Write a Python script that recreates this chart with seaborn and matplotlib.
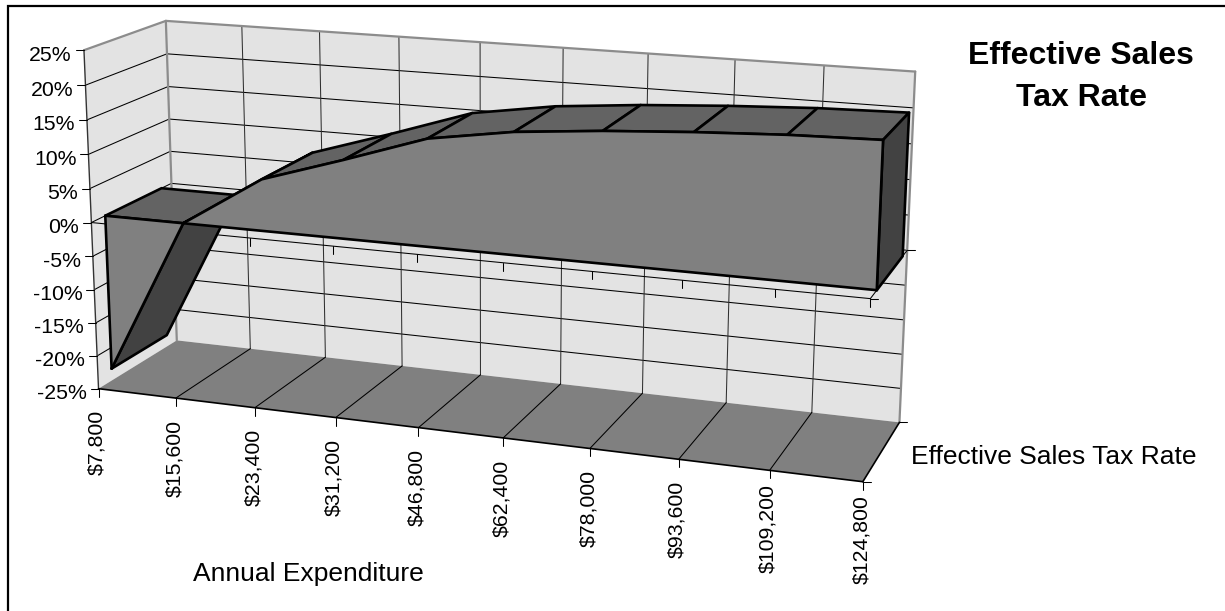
import numpy as np
import pandas as pd
import seaborn as sns
import matplotlib
matplotlib.use('Agg')
import matplotlib.pyplot as plt

# Chart data
expenditure = ['$7,800', '$15,600', '$23,400', '$31,200', '$46,800',
               '$62,400', '$78,000', '$93,600', '$109,200', '$124,800']
tax_rate = [-23.2, 0.0, 7.5, 11.3, 15.3, 17.2, 18.3, 19.1, 19.7, 20.0]
rate_ticks = [25, 20, 15, 10, 5, 0, -5, -10, -15, -20, -25]
series_name = 'Effective Sales Tax Rate'
x_title = 'Annual Expenditure'

# Picture positions of the plot box corners: (across, depth, rate) -> (px, py)
box_corners = [
    ((0, 0, -25), (98, 389)), ((1, 0, -25), (863, 482)),
    ((0, 1, -25), (177, 340)), ((1, 1, -25), (900, 422)),
    ((0, 0, 25), (84, 50)), ((0, 1, 25), (165.5, 21)),
    ((1, 1, 25), (916, 71.5)), ((0, 0, 0), (92, 222.7)),
    ((1, 0, 0), (870, 298)), ((1, 1, 0), (906, 251)),
]

# Solve the perspective camera from the corners
rows, rhs = [], []
for (a, d, r), (px, py) in box_corners:
    rows.append([a, d, r, 1, 0, 0, 0, 0, -px * a, -px * d, -px * r])
    rows.append([0, 0, 0, 0, a, d, r, 1, -py * a, -py * d, -py * r])
    rhs += [px, py]
cam = np.linalg.lstsq(np.array(rows, float), np.array(rhs, float), rcond=None)[0]
cam = np.append(cam, 1).reshape(3, 4)


def project(a, d, r):
    p = cam @ np.array([a, d, r, 1.0])
    return p[0] / p[2], p[1] / p[2]


def poly(ax, pts, color, edge='none', lw=0):
    xy = [project(*p) for p in pts]
    ax.fill([q[0] for q in xy], [q[1] for q in xy], color=color, ec=edge, lw=lw,
            joinstyle='round', zorder=2)


def seg(ax, a, b, color='black', lw=0.75):
    p, q = project(*a), project(*b)
    ax.plot([p[0], q[0]], [p[1], q[1]], color=color, lw=lw, solid_capstyle='round', zorder=2)


sns.set_style('white')
plt.rcParams['font.family'] = ['Liberation Sans', 'DejaVu Sans']
plt.rcParams['text.color'] = 'black'

fig = plt.figure(figsize=(12.25, 6.11), dpi=100)
ax = fig.add_axes([0, 0, 1, 1])
ax.set_xlim(0, 1225)
ax.set_ylim(611, 0)
ax.axis('off')

# chart border, only top and left are inside the picture
ax.plot([8, 8, 1225], [611, 6, 6], color='black', lw=1.6, zorder=2, solid_joinstyle='miter')

WALL, FLOOR, FRONT, TOP, DARK = '#e3e3e3', '#808080', '#808080', '#636363', '#424242'
n = len(expenditure)
cats = [i / (n - 1) for i in range(n)]

# walls and floor
poly(ax, [(0, 0, -25), (0, 1, -25), (0, 1, 25), (0, 0, 25)], WALL)
poly(ax, [(0, 1, -25), (1, 1, -25), (1, 1, 25), (0, 1, 25)], WALL)
poly(ax, [(0, 0, -25), (1, 0, -25), (1, 1, -25), (0, 1, -25)], FLOOR)

# gridlines
for r in rate_ticks[1:-1]:
    seg(ax, (0, 0, r), (0, 1, r))
    seg(ax, (0, 1, r), (1, 1, r))
for c in cats[1:-1]:
    seg(ax, (c, 1, -25), (c, 1, 25), color='#303030')
    seg(ax, (c, 0, -25), (c, 1, -25))

# wall edges
for a, b in [((0, 0, 25), (0, 1, 25)), ((0, 1, 25), (1, 1, 25)),
             ((0, 1, 25), (0, 1, -25)), ((1, 1, 25), (1, 1, -25))]:
    seg(ax, a, b, color='#8c8c8c', lw=1.6)

# axis lines
seg(ax, (0, 0, 25), (0, 0, -25), color='#333333', lw=1.0)
seg(ax, (0, 0, -25), (1, 0, -25), lw=1.2)
seg(ax, (1, 0, -25), (1, 1, -25), lw=1.2)
seg(ax, (0, 0, 0), (1, 0, 0))
seg(ax, (1, 0, 0), (1, 1, 0))

# ticks and labels on the value axis
for r in rate_ticks:
    px, py = project(0, 0, r)
    ax.plot([px - 8, px], [py, py], color='black', lw=0.75, zorder=2)
    ax.text(px - 12, py + 10.5, f'{r}%', ha='right', va='baseline', fontsize=15.3)

# ticks and labels on the category axis
for c, lab in zip(cats, expenditure):
    px, py = project(c, 0, -25)
    ax.plot([px, px], [py, py + 8], color='black', lw=0.75, zorder=2)
    # the longer labels sit closer to the axis in the original
    gap = 14 if len(lab) > 7 else 21.5
    ax.text(px - 1.5, py + gap, lab, rotation=90, ha='center', va='top', fontsize=15.3)
    zx, zy = project(c, 0, 0)
    if c > 0:
        ax.plot([zx, zx], [zy, zy + 8], color='black', lw=0.75, zorder=2)

# ticks on the depth axis
for d, r in [(0, -25), (1, -25), (0, 0), (1, 0)]:
    px, py = project(1, d, r)
    ax.plot([px, px + 8], [py, py], color='black', lw=0.75, zorder=2)

# the area block
V1, V2 = 0.165, 0.87
OUT = 1.9
poly(ax, [(cats[0], V1, tax_rate[0]), (cats[0], V2, tax_rate[0]),
          (cats[1], V2, tax_rate[1]), (cats[1], V1, tax_rate[1])], DARK, 'black', OUT)
poly(ax, [(cats[0], V1, 0), (cats[0], V2, 0), (cats[1], V2, 0), (cats[1], V1, 0)], TOP, 'black', OUT)
for i in range(1, n - 1):
    poly(ax, [(cats[i], V1, tax_rate[i]), (cats[i], V2, tax_rate[i]),
              (cats[i + 1], V2, tax_rate[i + 1]), (cats[i + 1], V1, tax_rate[i + 1])], TOP, 'black', OUT)
poly(ax, [(1, V1, 0), (1, V2, 0), (1, V2, tax_rate[-1]), (1, V1, tax_rate[-1])], DARK, 'black', OUT)

# negative wedge then the positive front face
poly(ax, [(cats[0], V1, 0), (cats[0], V1, tax_rate[0]), (cats[1], V1, tax_rate[1])], FRONT)
face = [(cats[1], V1, 0)] + [(cats[i], V1, tax_rate[i]) for i in range(1, n)] + [(1, V1, 0)]
poly(ax, face, FRONT)

# front outline drawn through seaborn
front = pd.DataFrame([project(c, V1, t) for c, t in zip(cats, tax_rate)], columns=['px', 'py'])
base = pd.DataFrame([project(c, V1, 0) for c in (0, 1)], columns=['px', 'py'])
sns.lineplot(data=front, x='px', y='py', sort=False, estimator=None, color='black', lw=OUT, ax=ax, zorder=2)
sns.lineplot(data=base, x='px', y='py', sort=False, estimator=None, color='black', lw=OUT, ax=ax, zorder=2)
seg(ax, (0, V1, 0), (0, V1, tax_rate[0]), lw=OUT)
seg(ax, (1, V1, 0), (1, V1, tax_rate[-1]), lw=OUT)
ax.set_xlabel('')
ax.set_ylabel('')
ax.set_xlim(0, 1225)
ax.set_ylim(611, 0)

# titles
ax.text(1081, 63.5, 'Effective Sales', ha='center', va='baseline', fontsize=23, fontweight='bold')
ax.text(1081, 106, 'Tax Rate', ha='center', va='baseline', fontsize=23, fontweight='bold')
ax.text(911, 463.5, series_name, ha='left', va='baseline', fontsize=19)
ax.text(308, 580.5, x_title, ha='center', va='baseline', fontsize=19)

fig.savefig('out.png', dpi=100)
